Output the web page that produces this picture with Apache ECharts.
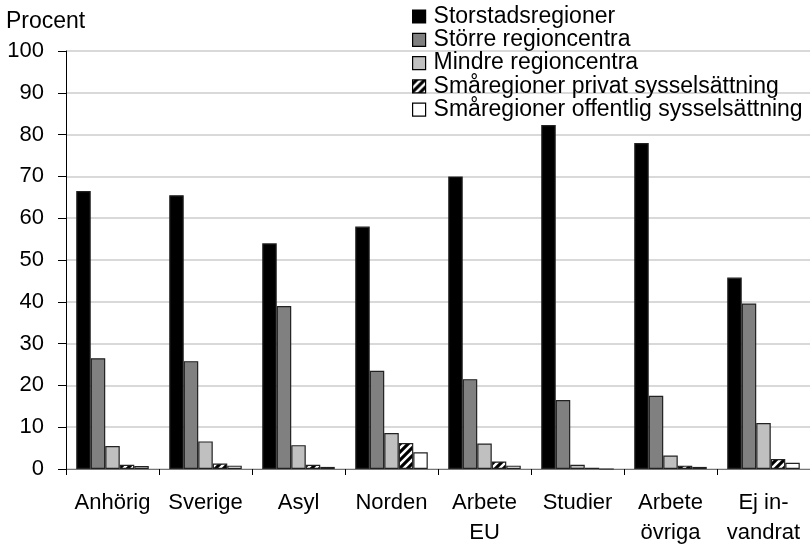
<!DOCTYPE html>
<html>
<head>
<meta charset="utf-8">
<script src="https://cdn.jsdelivr.net/npm/echarts@6/dist/echarts.min.js"></script>
<style>
  html, body { margin: 0; padding: 0; background: #fff; }
  #chart { width: 810px; height: 548px; }
</style>
</head>
<body>
<div id="chart"></div>
<script>
// kategorier (invandringsskäl)
var categories = ["Anhörig", "Sverige", "Asyl", "Norden", "Arbete\nEU", "Studier", "Arbete\növriga", "Ej in-\nvandrat"];
var seriesNames = ["Storstadsregioner", "Större regioncentra", "Mindre regioncentra",
  "Småregioner privat sysselsättning", "Småregioner offentlig sysselsättning"];
// procent per regiontyp
var storstad = [66.5, 65.5, 54, 58, 70, 82.3, 78, 45.8];
var storreCentra = [26.5, 25.8, 39, 23.5, 21.5, 16.5, 17.5, 39.6];
var mindreCentra = [5.5, 6.6, 5.7, 8.6, 6.1, 1.0, 3.2, 11];
var smaPrivat = [1.0, 1.3, 1.0, 6.2, 1.8, 0.3, 0.8, 2.4];
var smaOffentlig = [0.7, 0.8, 0.5, 4.0, 0.8, 0, 0.5, 1.5];

// randigt mönster för småregioner privat
var pat = document.createElement("canvas");
pat.width = 8; pat.height = 8;
var ctx = pat.getContext("2d");
ctx.fillStyle = "#000";
ctx.fillRect(0, 0, 8, 8);
ctx.strokeStyle = "#fff";
ctx.lineWidth = 2.5;
ctx.beginPath();
ctx.moveTo(-2, 10); ctx.lineTo(10, -2);
ctx.moveTo(-6, 6); ctx.lineTo(6, -6);
ctx.moveTo(2, 14); ctx.lineTo(14, 2);
ctx.stroke();

var fills = ["#000000", "#808080", "#c0c0c0", { image: pat, repeat: "repeat" }, "#ffffff"];
var values = [storstad, storreCentra, mindreCentra, smaPrivat, smaOffentlig];

var chart = echarts.init(document.getElementById("chart"));
chart.setOption({
  animation: false,
  textStyle: { fontFamily: "Liberation Sans, Arial, sans-serif" },
  grid: { left: 66, right: 0, top: 51, bottom: 77 },
  legend: {
    orient: "vertical",
    left: 412,
    top: 5,
    padding: 0,
    itemWidth: 13,
    itemHeight: 13,
    itemGap: 0.3,
    textStyle: { fontSize: 23, lineHeight: 21, color: "#000", padding: [0, 0, 0, 3] },
    data: seriesNames.map(function (n) {
      return { name: n, icon: "rect", itemStyle: { borderColor: "#000", borderWidth: 1.2 } };
    })
  },
  xAxis: {
    type: "category",
    data: categories,
    axisLine: { lineStyle: { color: "#777", width: 1 } },
    axisTick: { show: true, length: 6, lineStyle: { color: "#000" } },
    axisLabel: { color: "#000", fontSize: 22, margin: 19, lineHeight: 30, interval: 0 }
  },
  yAxis: {
    type: "value",
    min: 0, max: 100, interval: 10,
    name: "Procent",
    nameLocation: "end",
    nameGap: 18,
    nameTextStyle: { fontSize: 23, color: "#000", align: "left", padding: [0, 0, 0, -60] },
    axisLine: { show: true, lineStyle: { color: "#000" } },
    axisTick: { show: true, length: 8, lineStyle: { color: "#000" } },
    axisLabel: { color: "#000", fontSize: 22, margin: 22 },
    splitLine: { lineStyle: { color: "#d9d9d9", width: 2 } }
  },
  series: values.map(function (v, i) {
    return {
      name: seriesNames[i],
      type: "bar",
      data: v,
      barGap: "0%",
      barCategoryGap: "22%",
      itemStyle: { color: fills[i], borderColor: "#222", borderWidth: 1.2 }
    };
  })
});
</script>
</body>
</html>
